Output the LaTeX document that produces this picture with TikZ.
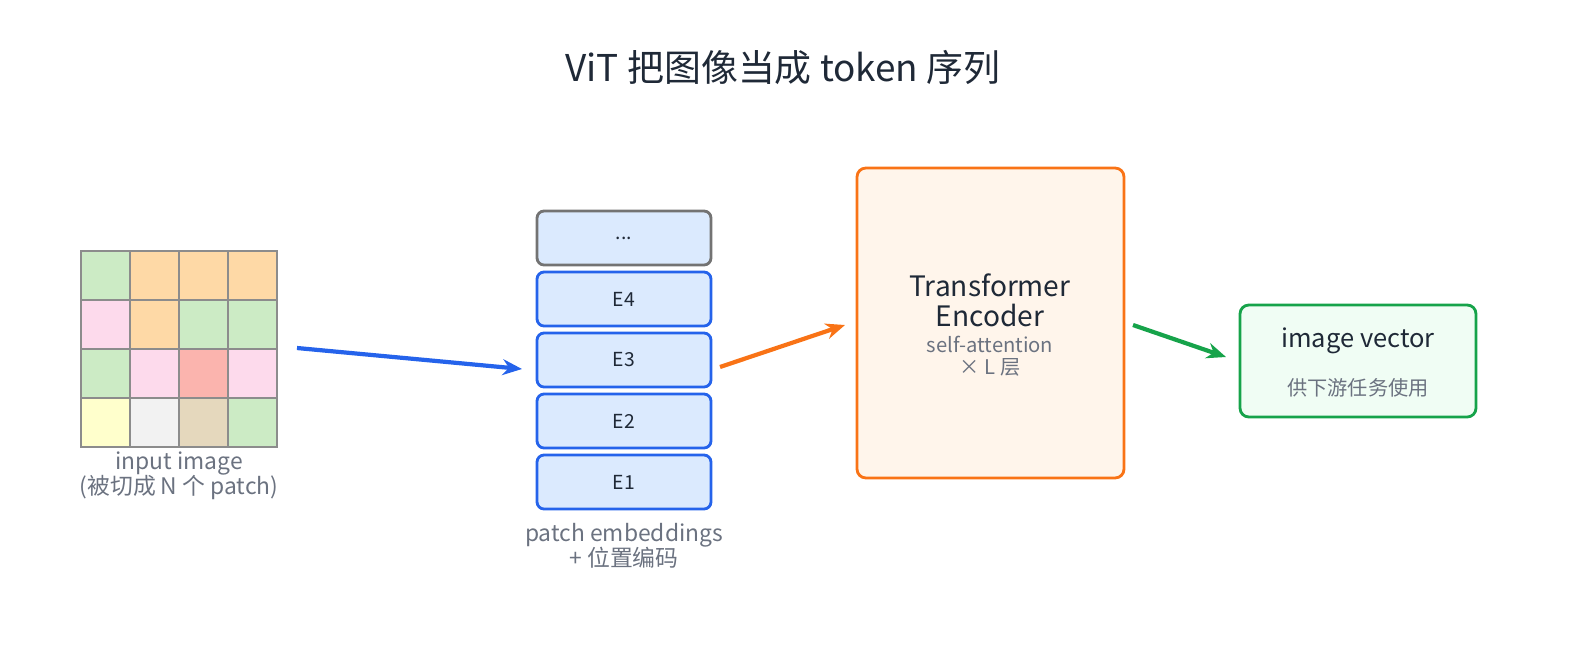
\documentclass[tikz,border=0pt]{standalone}
\usepackage{fontspec}
\setmainfont{Noto Sans CJK SC}
\usetikzlibrary{arrows.meta,positioning}
\definecolor{ink}{HTML}{1F2937}
\definecolor{muted}{HTML}{6B7280}
\definecolor{blueE}{HTML}{2563EB}
\definecolor{blueF}{HTML}{DBEAFE}
\definecolor{orangeE}{HTML}{F97316}
\definecolor{orangeF}{HTML}{FFF5EB}
\definecolor{greenE}{HTML}{16A34A}
\definecolor{greenF}{HTML}{F0FDF4}
\definecolor{pG}{HTML}{CCEBC5}
\definecolor{pO}{HTML}{FED9A6}
\definecolor{pP}{HTML}{FDDAEC}
\definecolor{pR}{HTML}{FBB4AE}
\definecolor{pY}{HTML}{FFFFCC}
\definecolor{pW}{HTML}{F2F2F2}
\definecolor{pT}{HTML}{E5D8BD}
\begin{document}
\begin{tikzpicture}[
    x = 0.02cm, y = -0.02cm,
    >= {Stealth[length=11pt,width=9pt]},
    emb/.style = {draw=blueE, line width=1.6pt, fill=blueF, rounded corners=4pt,
        minimum width=3.48cm, minimum height=1.08cm, inner sep=0pt, font=\fontsize{11}{13}\selectfont, text=ink},
    cell/.style = {draw=gray!90, line width=0.8pt, minimum size=0.98cm, inner sep=0pt},
    note/.style = {text=muted, font=\fontsize{13}{14.5}\selectfont, align=center},
    flow/.style = {->, line width=2.4pt}
    ]
    \useasboundingbox (0,0) rectangle (1589,656);

    \node[text=ink, font=\fontsize{21}{24}\selectfont] (title) at (783,68) {ViT 把图像当成 token 序列};

    % input image grid
    \foreach \row/\colours in {0/{pG,pO,pO,pO}, 1/{pP,pO,pG,pG}, 2/{pG,pP,pR,pP}, 3/{pY,pW,pT,pG}} {
        \foreach \c [count=\col from 0] in \colours {
            \node[cell, fill=\c] (p\row\col) at (105.5+\col*49, 275.5+\row*49) {};
        }
    }
    \node[note] (imglabel) at (179,476) {input image\\(被切成 N 个 patch)};

    % patch embeddings
    \node[emb, draw=gray!110] (dots) at (624,238) {...};
    \node[emb] (e4) at (624,299) {E4};
    \node[emb] (e3) at (624,360) {E3};
    \node[emb] (e2) at (624,421) {E2};
    \node[emb] (e1) at (624,482) {E1};
    \node[note] (emblabel) at (624,546) {patch embeddings\\+ 位置编码};

    % encoder
    \node[draw=orangeE, line width=1.6pt, fill=orangeF, rounded corners=5pt,
        minimum width=5.34cm, minimum height=6.2cm] (enc) at (990.5,323) {};
    \node[text=ink, align=center, font=\fontsize{16}{17}\selectfont] (enctitle) at (990,300) {Transformer\\Encoder};
    \node[note, font=\fontsize{11.5}{12.5}\selectfont] (encsub) at (990,356) {self-attention\\× L 层};

    % output
    \node[draw=greenE, line width=1.6pt, fill=greenF, rounded corners=5pt,
        minimum width=4.72cm, minimum height=2.24cm] (vec) at (1358,361) {};
    \node[text=ink, font=\fontsize{14.5}{16}\selectfont] (vectitle) at (1358,341) {image vector};
    \node[text=muted, font=\fontsize{11.5}{13}\selectfont] (vecsub) at (1358,388) {供下游任务使用};

    % arrows
    \coordinate (a1) at (297,348);
    \coordinate (a2) at (522,369);
    \coordinate (b1) at (720,367);
    \coordinate (b2) at (845,325);
    \coordinate (c1) at (1133,325);
    \coordinate (c2) at (1226,357);
    \draw[flow, blueE] (a1) -- (a2);
    \draw[flow, orangeE] (b1) -- (b2);
    \draw[flow, greenE] (c1) -- (c2);
\end{tikzpicture}
\end{document}
